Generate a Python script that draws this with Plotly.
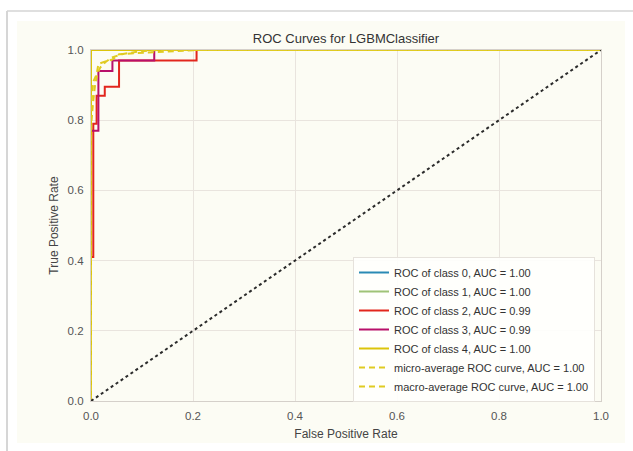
import plotly.graph_objects as go

# ROC curves per class (false positive rate, true positive rate)
fpr_class0 = [0.0, 0.0, 1.0]
tpr_class0 = [0.0, 1.0, 1.0]

fpr_class1 = [0.0, 0.0, 1.0]
tpr_class1 = [0.0, 1.0, 1.0]

fpr_class2 = [0.0, 0.0, 0.0045, 0.0045, 0.011, 0.011, 0.027, 0.027, 0.055, 0.055, 0.207, 0.207, 1.0]
tpr_class2 = [0.0, 0.41, 0.41, 0.79, 0.79, 0.87, 0.87, 0.895, 0.895, 0.97, 0.97, 1.0, 1.0]

fpr_class3 = [0.0, 0.0, 0.0145, 0.0145, 0.042, 0.042, 0.124, 0.124, 1.0]
tpr_class3 = [0.0, 0.77, 0.77, 0.94, 0.94, 0.97, 0.97, 1.0, 1.0]

fpr_class4 = [0.0, 0.0, 1.0]
tpr_class4 = [0.0, 1.0, 1.0]

fpr_micro = [0.0, 0.0, 0.004, 0.008, 0.012, 0.018, 0.028, 0.04, 0.06, 0.09, 0.13, 1.0]
tpr_micro = [0.0, 0.78, 0.85, 0.90, 0.93, 0.95, 0.965, 0.978, 0.988, 0.995, 1.0, 1.0]

fpr_macro = [0.0, 0.0, 0.0045, 0.011, 0.0145, 0.027, 0.042, 0.055, 0.124, 0.207, 1.0]
tpr_macro = [0.0, 0.84, 0.91, 0.93, 0.96, 0.967, 0.973, 0.988, 0.994, 1.0, 1.0]

labels = [
    "ROC of class 0, AUC = 1.00",
    "ROC of class 1, AUC = 1.00",
    "ROC of class 2, AUC = 0.99",
    "ROC of class 3, AUC = 0.99",
    "ROC of class 4, AUC = 1.00",
    "micro-average ROC curve, AUC = 1.00",
    "macro-average ROC curve, AUC = 1.00",
]
tick_vals = [0.0, 0.2, 0.4, 0.6, 0.8, 1.0]

colors = ["#2a8ab5", "#9fc377", "#e2261d", "#b8106a", "#dcc40a"]
avg_color = "#e0cb22"

W, H = 633, 451
ML, MR, MT, MB = 91, 32, 50, 50
PW, PH = W - ML - MR, H - MT - MB


def px_x(x):
    return (x - ML) / PW


def px_y(y):
    return (H - MB - y) / PH


fig = go.Figure()

curves = [
    (fpr_class0, tpr_class0),
    (fpr_class1, tpr_class1),
    (fpr_class2, tpr_class2),
    (fpr_class3, tpr_class3),
    (fpr_class4, tpr_class4),
]
for (fx, ty), name, col in zip(curves, labels[:5], colors):
    fig.add_trace(go.Scatter(x=fx, y=ty, mode="lines", name=name,
                             line=dict(color=col, width=2)))

fig.add_trace(go.Scatter(x=fpr_micro, y=tpr_micro, mode="lines", name=labels[5],
                         line=dict(color=avg_color, width=2, dash="6px,4px")))
fig.add_trace(go.Scatter(x=fpr_macro, y=tpr_macro, mode="lines", name=labels[6],
                         line=dict(color=avg_color, width=2, dash="6px,4px")))

# chance diagonal
fig.add_trace(go.Scatter(x=[0, 1], y=[0, 1], mode="lines", showlegend=False,
                         line=dict(color="#2b2b2b", width=2, dash="dot")))

cream = "#fcfcf4"
shapes = [
    dict(type="rect", xref="paper", yref="paper", layer="below",
         x0=px_x(17), x1=px_x(625), y0=px_y(443), y1=px_y(21),
         fillcolor=cream, line=dict(width=0)),
    dict(type="line", xref="paper", yref="paper", layer="below",
         x0=px_x(7), x1=px_x(7), y0=px_y(451), y1=px_y(11),
         line=dict(color="#c9c9c9", width=1.5)),
    dict(type="line", xref="paper", yref="paper", layer="below",
         x0=px_x(7), x1=px_x(633), y0=px_y(11), y1=px_y(11),
         line=dict(color="#d4d4d4", width=1.5)),
]

axis_common = dict(
    range=[0, 1],
    tickvals=tick_vals,
    tickformat=".1f",
    showgrid=True,
    gridcolor="#e9e4de",
    gridwidth=1,
    zeroline=False,
    showline=True,
    linecolor="#d5d0ca",
    linewidth=1.2,
    mirror=True,
    ticks="outside",
    ticklen=4,
    tickcolor="rgba(0,0,0,0)",
    tickfont=dict(size=11.5, color="#555555"),
)

fig.update_layout(
    width=W, height=H, autosize=False,
    margin=dict(l=ML, r=MR, t=MT, b=MB),
    paper_bgcolor="white",
    plot_bgcolor="rgba(0,0,0,0)",
    font=dict(family="Liberation Sans, Arial, sans-serif", color="#333333"),
    title=dict(text="ROC Curves for LGBMClassifier", x=(346) / W,
               xanchor="center", y=1 - 38 / H, yanchor="middle",
               font=dict(size=13, color="#333333")),
    xaxis=dict(axis_common, title=dict(text="False Positive Rate", standoff=8,
                                       font=dict(size=12, color="#444444"))),
    yaxis=dict(axis_common, title=dict(text="True Positive Rate", standoff=6,
                                       font=dict(size=12, color="#444444"))),
    legend=dict(x=1 - 6 / PW, xanchor="right", y=-1 / PH, yanchor="bottom",
                bgcolor="rgba(255,255,253,0.9)", bordercolor="#e6e2dc", borderwidth=1,
                font=dict(size=11, color="#333333"), tracegroupgap=0),
    shapes=shapes,
    showlegend=True,
)

fig.write_html("out.html")
